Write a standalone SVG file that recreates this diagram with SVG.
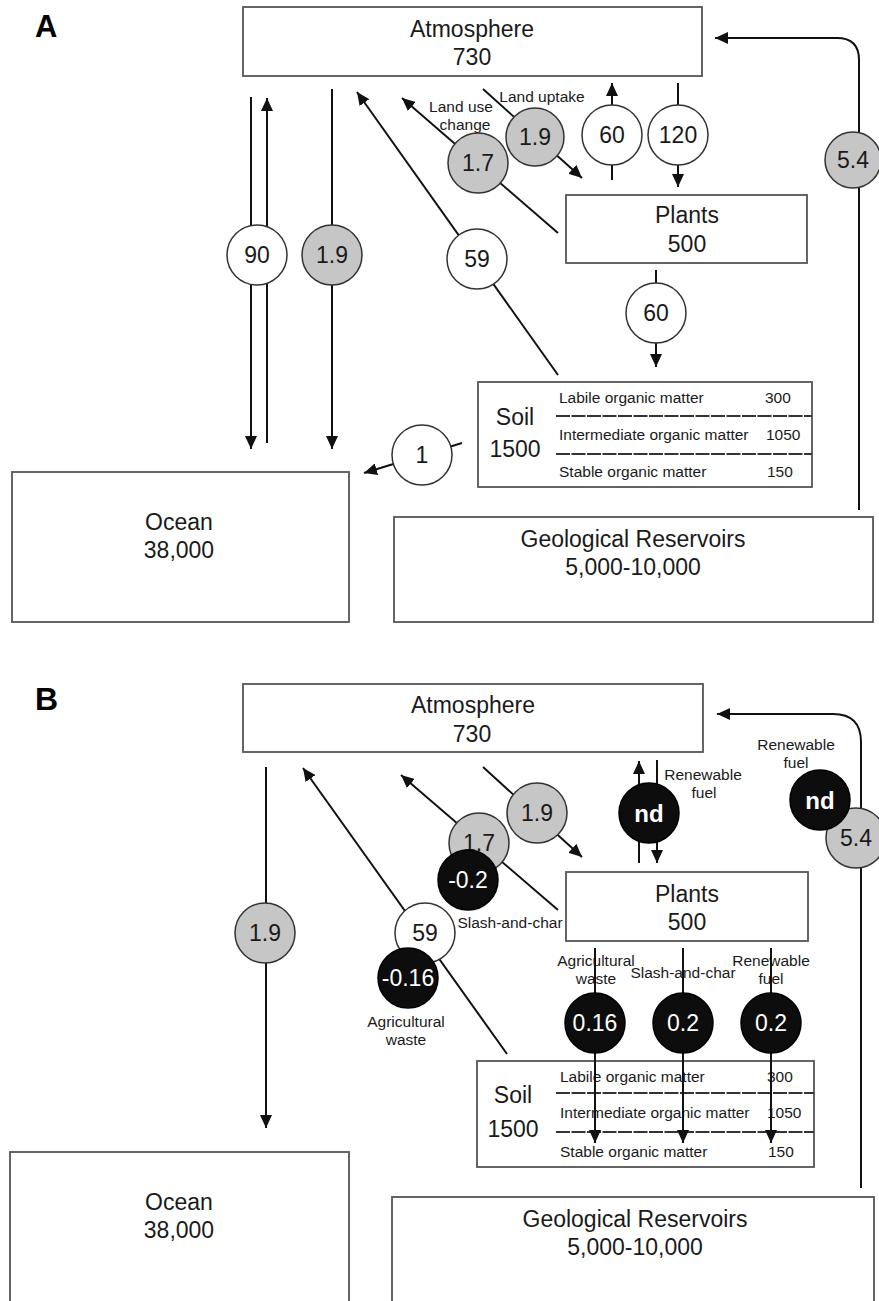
<svg xmlns="http://www.w3.org/2000/svg" width="879" height="1301" viewBox="0 0 879 1301">
<style>
.box{fill:#fff;stroke:#555;stroke-width:1.8}
.ln{fill:none;stroke:#111;stroke-width:2}
.ar{marker-end:url(#ah)}
.sep{stroke:#333;stroke-width:2;stroke-dasharray:14 1.5}
.cw{fill:#fff;stroke:#333;stroke-width:1.5}
.cg{fill:#c6c6c6;stroke:#333;stroke-width:1.5}
.cb{fill:#0d0d0d;stroke:#000;stroke-width:1.5}
text{font-family:"Liberation Sans",Arial,Helvetica,sans-serif;fill:#1a1a1a}
.t{font-size:23px;text-anchor:middle}
.s{font-size:15.5px;text-anchor:middle}
.r{font-size:15.5px}
.w{fill:#fff}
.nd{font-weight:bold;font-size:24px}
.pl{font-size:31px;font-weight:bold;fill:#000}
</style>
<defs>
<marker id="ah" markerUnits="userSpaceOnUse" viewBox="0 0 13 12" markerWidth="13" markerHeight="12" refX="13" refY="6" orient="auto">
<path d="M0,0 L13,6 L0,12 z" fill="#111"/>
</marker>
</defs>
<rect width="879" height="1301" fill="#fff"/>

<!-- Panel A -->
<text class="pl" x="35" y="37">A</text>
<g id="a-atmosphere"><rect class="box" x="243" y="7" width="459" height="69"/><text class="t" x="472" y="37">Atmosphere</text><text class="t" x="472" y="65">730</text></g>
<g id="a-plants"><rect class="box" x="566" y="195" width="241" height="68"/><text class="t" x="687" y="223">Plants</text><text class="t" x="687" y="252">500</text></g>
<g id="a-soil"><rect class="box" x="478" y="382" width="334" height="105"/><text class="t" x="515" y="425">Soil</text><text class="t" x="515" y="457">1500</text>
<line class="sep" x1="556" y1="416" x2="812" y2="416"/><line class="sep" x1="556" y1="454" x2="812" y2="454"/>
<text class="r" x="559" y="403">Labile organic matter</text><text class="r" x="765" y="403">300</text>
<text class="r" x="559" y="440">Intermediate organic matter</text><text class="r" x="766" y="440">1050</text>
<text class="r" x="559" y="477">Stable organic matter</text><text class="r" x="767" y="477">150</text></g>
<g id="a-ocean"><rect class="box" x="12" y="472" width="337" height="150"/><text class="t" x="179" y="530">Ocean</text><text class="t" x="179" y="558">38,000</text></g>
<g id="a-geo"><rect class="box" x="394" y="517" width="479" height="105"/><text class="t" x="633" y="547">Geological Reservoirs</text><text class="t" x="633" y="575">5,000-10,000</text></g>
<g id="a-labels"><text class="s" x="461" y="112">Land use</text><text class="s" x="465" y="130">change</text><text class="s" x="542" y="102">Land uptake</text></g>

<g id="a-connectors">
<line class="ln ar" x1="251" y1="97" x2="251" y2="449"/>
<line class="ln ar" x1="267" y1="443" x2="267" y2="98"/>
<line class="ln ar" x1="332" y1="89" x2="332" y2="449"/>
<line class="ln ar" x1="558" y1="375" x2="357" y2="92"/>
<line class="ln ar" x1="558" y1="233" x2="402" y2="98"/>
<line class="ln ar" x1="483" y1="89" x2="582" y2="178"/>
<line class="ln ar" x1="612" y1="180" x2="612" y2="83"/>
<line class="ln ar" x1="678" y1="83" x2="678" y2="187"/>
<line class="ln ar" x1="656" y1="270" x2="656" y2="367"/>
<line class="ln ar" x1="462" y1="443" x2="364" y2="473"/>
<path class="ln ar" d="M859,510 L859,60 Q859,38 837,38 L715,38"/>
</g>

<g id="a-f90"><circle class="cw" cx="257" cy="255" r="30"/><text class="t" x="257" y="263">90</text></g>
<g id="a-f19o"><circle class="cg" cx="332" cy="255" r="30"/><text class="t" x="332" y="263">1.9</text></g>
<g id="a-f59"><circle class="cw" cx="477" cy="259" r="30"/><text class="t" x="477" y="267">59</text></g>
<g id="a-f17"><circle class="cg" cx="478" cy="163" r="30"/><text class="t" x="478" y="171">1.7</text></g>
<g id="a-f19l"><circle class="cg" cx="535" cy="137" r="29"/><text class="t" x="535" y="145">1.9</text></g>
<g id="a-f60u"><circle class="cw" cx="612" cy="135" r="30"/><text class="t" x="612" y="143">60</text></g>
<g id="a-f120"><circle class="cw" cx="678" cy="135" r="30"/><text class="t" x="678" y="143">120</text></g>
<g id="a-f60d"><circle class="cw" cx="656" cy="313" r="30"/><text class="t" x="656" y="321">60</text></g>
<g id="a-f1"><circle class="cw" cx="422" cy="455" r="30"/><text class="t" x="422" y="463">1</text></g>
<g id="a-f54"><circle class="cg" cx="853" cy="160" r="28"/><text class="t" x="853" y="168">5.4</text></g>

<!-- Panel B -->
<text class="pl" x="35" y="710" style="font-size:32px">B</text>
<g id="b-atmosphere"><rect class="box" x="243" y="684" width="460" height="68"/><text class="t" x="473" y="713">Atmosphere</text><text class="t" x="472" y="742">730</text></g>
<g id="b-plants"><rect class="box" x="566" y="872" width="242" height="69"/><text class="t" x="687" y="902">Plants</text><text class="t" x="687" y="930">500</text></g>
<g id="b-soil"><rect class="box" x="477" y="1061" width="337" height="106"/><text class="t" x="513" y="1103">Soil</text><text class="t" x="513" y="1137">1500</text>
<line class="sep" x1="556" y1="1093" x2="814" y2="1093"/><line class="sep" x1="556" y1="1132" x2="814" y2="1132"/>
<text class="r" x="560" y="1082">Labile organic matter</text><text class="r" x="767" y="1082">300</text>
<text class="r" x="560" y="1118">Intermediate organic matter</text><text class="r" x="767" y="1118">1050</text>
<text class="r" x="560" y="1157">Stable organic matter</text><text class="r" x="768" y="1157">150</text></g>
<g id="b-ocean"><rect class="box" x="10" y="1152" width="339" height="170"/><text class="t" x="179" y="1210">Ocean</text><text class="t" x="179" y="1238">38,000</text></g>
<g id="b-geo"><rect class="box" x="392" y="1197" width="482" height="125"/><text class="t" x="635" y="1227">Geological Reservoirs</text><text class="t" x="635" y="1255">5,000-10,000</text></g>
<g id="b-labels">
<text class="s" x="703" y="780">Renewable</text><text class="s" x="704" y="798">fuel</text>
<text class="s" x="796" y="750">Renewable</text><text class="s" x="796" y="768">fuel</text>
<text class="s" x="510" y="928">Slash-and-char</text>
<text class="s" x="406" y="1027">Agricultural</text><text class="s" x="406" y="1045">waste</text>
<text class="s" x="596" y="966">Agricultural</text><text class="s" x="596" y="984">waste</text>
<text class="s" x="683" y="978">Slash-and-char</text>
<text class="s" x="771" y="966">Renewable</text><text class="s" x="771" y="984">fuel</text>
</g>

<g id="b-connectors">
<line class="ln ar" x1="266" y1="767" x2="266" y2="1128"/>
<line class="ln ar" x1="507" y1="1054" x2="303" y2="768"/>
<line class="ln ar" x1="558" y1="910" x2="401" y2="775"/>
<line class="ln ar" x1="483" y1="767" x2="582" y2="857"/>
<line class="ln ar" x1="639" y1="863" x2="639" y2="761"/>
<line class="ln ar" x1="657" y1="760" x2="657" y2="863"/>
<line class="ln ar" x1="595" y1="948" x2="595" y2="1143"/>
<line class="ln ar" x1="683" y1="948" x2="683" y2="1143"/>
<line class="ln ar" x1="771" y1="948" x2="771" y2="1143"/>
<path class="ln ar" d="M861,1188 L861,742 Q861,714 833,714 L717,714"/>
</g>

<g id="b-f19o"><circle class="cg" cx="265" cy="933" r="30"/><text class="t" x="265" y="941">1.9</text></g>
<g id="b-f59"><circle class="cw" cx="425" cy="933" r="30"/><text class="t" x="425" y="941">59</text></g>
<g id="b-fm016"><circle class="cb" cx="408" cy="978" r="30"/><text class="t w" x="408" y="986">-0.16</text></g>
<g id="b-f17"><circle class="cg" cx="479" cy="843" r="30"/><text class="t" x="479" y="851">1.7</text></g>
<g id="b-fm02"><circle class="cb" cx="468" cy="880" r="30"/><text class="t w" x="468" y="888">-0.2</text></g>
<g id="b-f19l"><circle class="cg" cx="537" cy="813" r="30"/><text class="t" x="537" y="821">1.9</text></g>
<g id="b-fnd1"><circle class="cb" cx="649" cy="813" r="30"/><text class="t w nd" x="649" y="822">nd</text></g>
<g id="b-f54"><circle class="cg" cx="856" cy="838" r="30"/><text class="t" x="856" y="846">5.4</text></g>
<g id="b-fnd2"><circle class="cb" cx="820" cy="800" r="30"/><text class="t w nd" x="820" y="809">nd</text></g>
<g id="b-f016"><circle class="cb" cx="595" cy="1023" r="30"/><text class="t w" x="595" y="1031">0.16</text></g>
<g id="b-f02a"><circle class="cb" cx="683" cy="1023" r="30"/><text class="t w" x="683" y="1031">0.2</text></g>
<g id="b-f02b"><circle class="cb" cx="771" cy="1023" r="30"/><text class="t w" x="771" y="1031">0.2</text></g>
</svg>
